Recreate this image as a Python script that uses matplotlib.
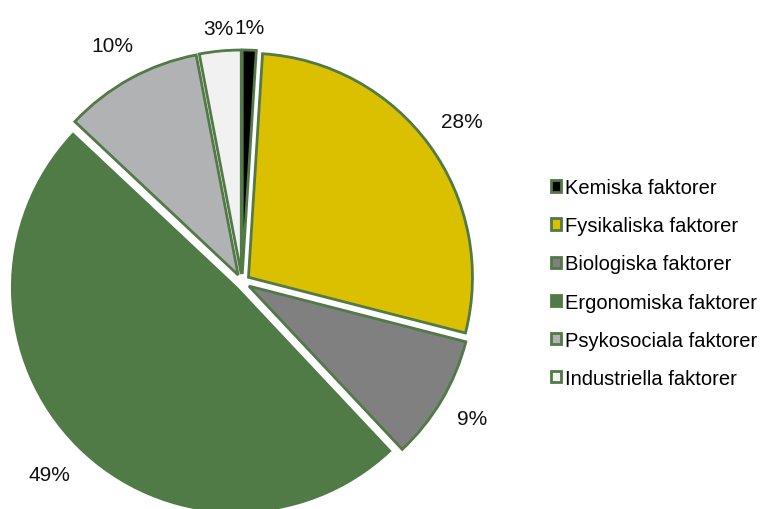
import numpy as np
import matplotlib.pyplot as plt

plt.rcParams['font.family'] = ['Liberation Sans', 'DejaVu Sans']

kategorier = ['Kemiska faktorer', 'Fysikaliska faktorer', 'Biologiska faktorer',
              'Ergonomiska faktorer', 'Psykosociala faktorer', 'Industriella faktorer']
andel = [1, 28, 9, 49, 10, 3]
farger = ['#000000', '#dbc000', '#808080', '#507a46', '#b1b2b4', '#f1f1f1']
kant = '#527a46'

fig = plt.figure(figsize=(7.63, 5.10), dpi=100)
# axes in pixel units so the pie can run off the bottom edge like the original
ax = fig.add_axes([0, 0, 1, 1])

radie = 224
wedges, texts, autotexts = ax.pie(
    andel, colors=farger, startangle=90, counterclock=False,
    center=(242, 227), radius=radie, explode=[8] * len(andel),
    autopct='%.0f%%', pctdistance=1.16,
    wedgeprops=dict(edgecolor=kant, linewidth=2),
    textprops=dict(fontsize=15, color='#111111'))
wedges[3].set_edgecolor(farger[3])

# label distance per slice (excel's "best fit" puts the small ones closer)
avstand = [1.10, 1.18, 1.16, 1.18, 1.17, 1.10]
for w, t, f in zip(wedges, autotexts, avstand):
    vinkel = np.deg2rad((w.theta1 + w.theta2) / 2)
    cx, cy = w.center
    t.set_position((cx + f * radie * np.cos(vinkel), cy + f * radie * np.sin(vinkel)))

# pie() resets the limits, so set them afterwards
ax.set_xlim(0, 763)
ax.set_ylim(0, 510)
ax.set_aspect('equal')
ax.axis('off')

ax.legend(wedges, kategorier, loc='center left', bbox_to_anchor=(543 / 763, 226 / 510),
          frameon=False, fontsize=14.5, handlelength=0.5, handleheight=0.5,
          handletextpad=0.2, labelspacing=0.95, borderaxespad=0)

fig.savefig('out.png', dpi=100)
